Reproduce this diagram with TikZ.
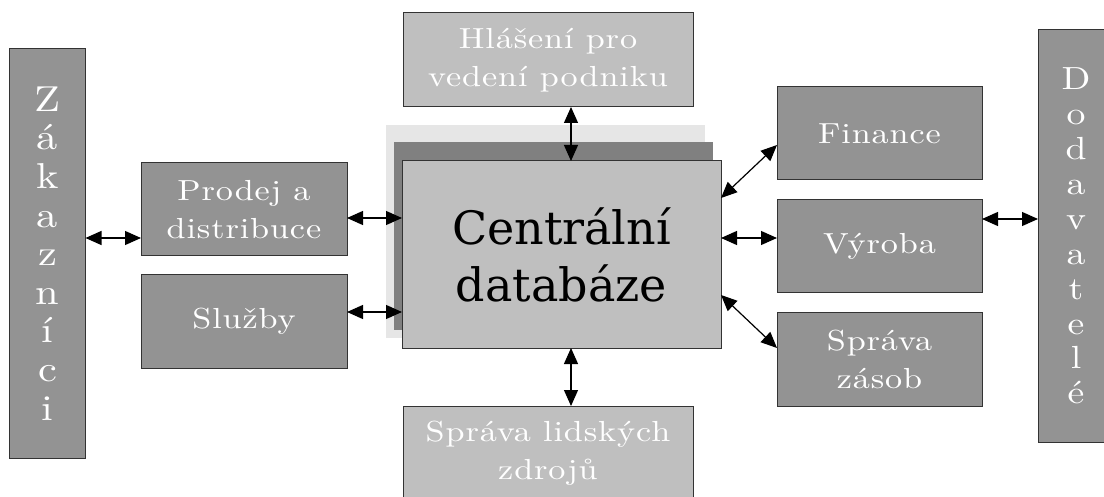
\documentclass[tikz,border=0pt]{standalone}
\usepackage{fontspec}
\newfontfamily\cfont{DejaVu Serif}
\newfontfamily\wf{lmroman10-regular.otf}[FakeStretch=1.18,LetterSpace=3]
\usetikzlibrary{arrows.meta}
\definecolor{dk}{HTML}{939393}
\definecolor{lt}{HTML}{BFBFBF}
\definecolor{backdark}{HTML}{808080}
\definecolor{backlight}{HTML}{E6E6E6}
\definecolor{edge}{HTML}{333333}
\begin{document}
\begin{tikzpicture}[x=1pt,y=-1pt,
  box/.style={draw=edge,line width=1pt,inner sep=0pt,outer sep=0pt,align=center,text=white,
    font=\wf\fontsize{29}{38}\selectfont},
  dkbox/.style={box,fill=dk,minimum width=206,minimum height=93},
  ltbox/.style={box,fill=lt,minimum width=290,minimum height=94},
  colbox/.style={box,fill=dk,minimum width=76,font=\wf\fontsize{36}{38.6}\selectfont},
  arr/.style={line width=1.2pt,{Triangle[length=16pt,width=14pt]}-{Triangle[length=16pt,width=14pt]}}]
\useasboundingbox (0,0) rectangle (1104,497);
% left column
\node[colbox,minimum height=409] (zak) at (47.5,253.5) {Z\\á\\k\\a\\z\\n\\í\\c\\i};
% right column
\node[colbox,minimum height=412,font=\wf\fontsize{32}{34.9}\selectfont] (dod) at (1076,236) {D\\o\\d\\a\\v\\a\\t\\e\\l\\é};
% left boxes
\node[dkbox] (prodej) at (244,209.5) {Prodej a\\distribuce};
\node[dkbox] (sluzby) at (244,321.5) {Služby};
% central stack
\fill[backlight] (386,125) rectangle (705,338);
\fill[backdark] (394,142) rectangle (713,330);
\node[box,fill=lt,text=black,minimum width=319,minimum height=187,
  font=\cfont\fontsize{46}{57}\selectfont] (central) at (561.5,254.5) {Centrální\\databáze};
% top and bottom
\node[ltbox] (hlaseni) at (548,60) {Hlášení pro\\vedení podniku};
\node[ltbox] (lidske) at (548,453) {Správa lidských\\zdrojů};
% right boxes
\node[dkbox,minimum width=205] (finance) at (879.5,133.5) {Finance};
\node[dkbox,minimum width=205] (vyroba) at (879.5,246.5) {Výroba};
\node[dkbox,minimum width=205] (zasob) at (879.5,359.5) {Správa\\zásob};
% connectors
\draw[arr] (zak.east |- 0,238) -- (prodej.west |- 0,238);
\draw[arr] (prodej.east |- 0,218) -- (central.west |- 0,218);
\draw[arr] (sluzby.east |- 0,312) -- (central.west |- 0,312);
\draw[arr] (571,0 |- hlaseni.south) -- (571,0 |- central.north);
\draw[arr] (571,0 |- central.south) -- (571,0 |- lidske.north);
\draw[arr] (central.east |- 0,198) -- (finance.west |- 0,145);
\draw[arr] (central.east |- 0,238) -- (vyroba.west |- 0,238);
\draw[arr] (central.east |- 0,295) -- (zasob.west |- 0,348);
\draw[arr] (vyroba.east |- 0,219) -- (dod.west |- 0,219);
\end{tikzpicture}
\end{document}
